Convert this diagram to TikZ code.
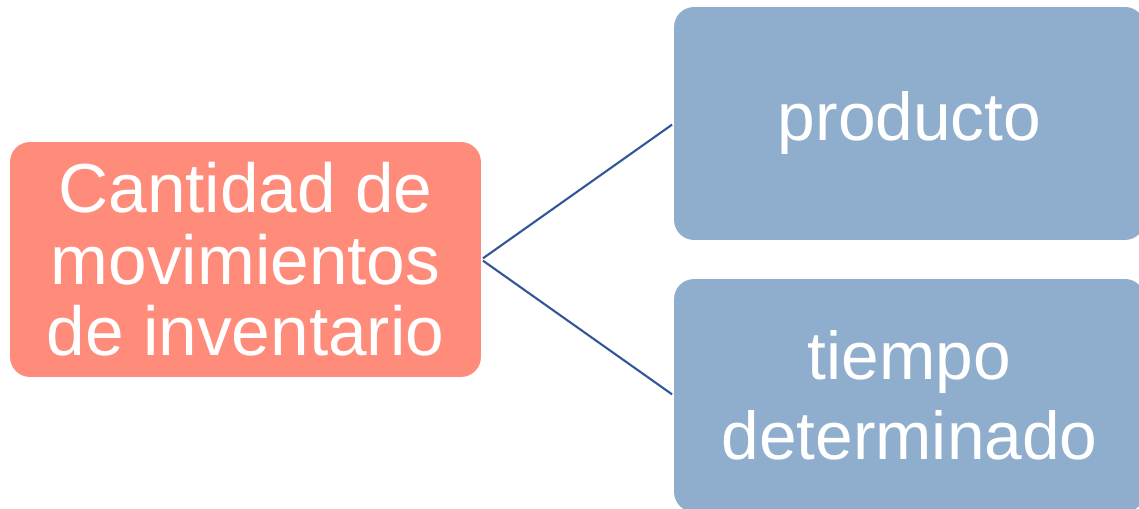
\documentclass[tikz,border=0pt]{standalone}
\usepackage{fontspec}
\setmainfont{Liberation Sans}
\usepackage{xcolor}
\usepackage{tikz}
\usetikzlibrary{calc}
\definecolor{boxSalmon}{RGB}{255,139,122}
\definecolor{boxBlue}{RGB}{143,174,205}
\definecolor{lineBlue}{RGB}{50,86,152}

\begin{document}
\begin{tikzpicture}[x=0.02cm, y=-0.02cm,
    box/.style={rounded corners=0.4cm, inner sep=0, align=center, text=white,
      minimum width=9.42cm},
    link/.style={draw=lineBlue, line width=1.2pt}]

  \useasboundingbox (0,0) rectangle (1139,509);

  \node[box, fill=boxSalmon, minimum height=4.7cm, font=\fontsize{39.5}{40.8}\selectfont]
    (src) at (245.5,259.5) {Cantidad de\\movimientos\\de inventario};
  \node[box, fill=boxBlue, minimum height=4.66cm, font=\fontsize{38.5}{45.3}\selectfont]
    (prod) at (909.5,123.5) {producto};
  \node[box, fill=boxBlue, minimum height=4.66cm, font=\fontsize{38.5}{45.3}\selectfont]
    (time) at (909.5,395.5) {tiempo\\determinado};

  \draw[link, shorten <=0.04cm, shorten >=0.04cm] (src.east) -- (prod.west);
  \draw[link, shorten <=0.04cm, shorten >=0.04cm] (src.east) -- (time.west);

\end{tikzpicture}
\end{document}
